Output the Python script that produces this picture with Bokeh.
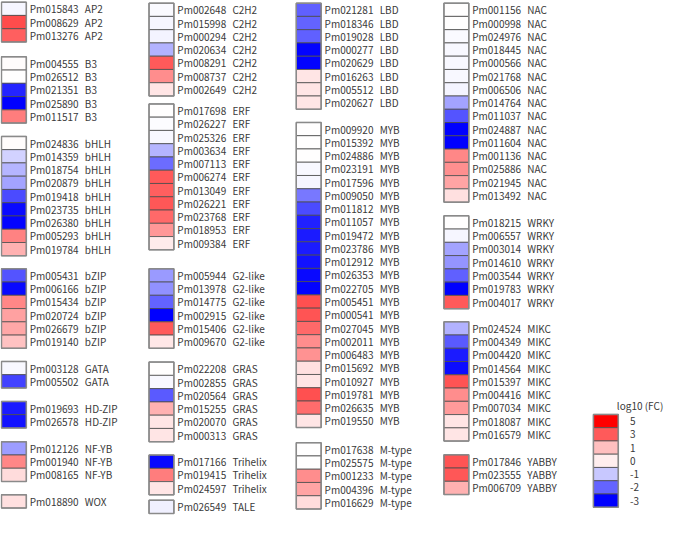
from bokeh.plotting import figure
from bokeh.models import ColumnDataSource, LinearColorMapper, Range1d
from bokeh.core.properties import value
from bokeh.embed import file_html
from bokeh.resources import INLINE

# ---------------- data: log10(FC) per gene, grouped by TF family ----------------
AP2_genes = ["Pm015843", "Pm008629", "Pm013276"]
AP2_vals = [-0.15, 3.2, 2.8]
B3_genes = ["Pm004555", "Pm026512", "Pm021351", "Pm025890", "Pm011517"]
B3_vals = [0.05, 0.0, -2.6, -3.0, 2.2]
bHLH_genes = ["Pm024836", "Pm014359", "Pm018754", "Pm020879", "Pm019418",
              "Pm023735", "Pm026380", "Pm005293", "Pm019784"]
bHLH_vals = [0.05, -0.7, -1.1, -1.3, -2.2, -2.9, -2.95, 2.1, 1.2]
bZIP_genes = ["Pm005431", "Pm006166", "Pm015434", "Pm020724", "Pm026679", "Pm019140"]
bZIP_vals = [-2.1, -2.9, 2.0, 1.5, 1.4, 0.9]
GATA_genes = ["Pm003128", "Pm005502"]
GATA_vals = [-0.1, -2.3]
HDZIP_genes = ["Pm019693", "Pm026578"]
HDZIP_vals = [-2.7, -2.8]
NFYB_genes = ["Pm012126", "Pm001940", "Pm008165"]
NFYB_vals = [-1.35, 2.0, 0.5]
WOX_genes = ["Pm018890"]
WOX_vals = [0.45]

C2H2_genes = ["Pm002648", "Pm015998", "Pm000294", "Pm020634", "Pm008291", "Pm008737", "Pm002649"]
C2H2_vals = [-0.08, -0.15, -0.17, -1.15, 2.9, 1.9, 0.4]
ERF_genes = ["Pm017698", "Pm026227", "Pm025326", "Pm003634", "Pm007113", "Pm006274",
             "Pm013049", "Pm026221", "Pm023768", "Pm018953", "Pm009384"]
ERF_vals = [0.0, -0.06, -0.12, -1.1, -1.85, 2.9, 2.8, 2.95, 2.6, 1.7, 0.3]
G2_genes = ["Pm005944", "Pm013978", "Pm014775", "Pm002915", "Pm015406", "Pm009670"]
G2_vals = [-1.4, -1.5, -1.95, -3.0, 2.9, 0.35]
GRAS_genes = ["Pm022208", "Pm002855", "Pm020564", "Pm015255", "Pm020070", "Pm000313"]
GRAS_vals = [0.0, -0.1, -2.05, 1.2, 0.4, 0.38]
Trihelix_genes = ["Pm017166", "Pm019415", "Pm024597"]
Trihelix_vals = [-2.9, 2.2, 0.4]
TALE_genes = ["Pm026549"]
TALE_vals = [-0.25]

LBD_genes = ["Pm021281", "Pm018346", "Pm019028", "Pm000277", "Pm020629",
             "Pm016263", "Pm005512", "Pm020627"]
LBD_vals = [-2.0, -1.95, -2.0, -2.95, -2.95, 0.4, 0.38, 0.4]
MYB_genes = ["Pm009920", "Pm015392", "Pm024886", "Pm023191", "Pm017596", "Pm009050",
             "Pm011812", "Pm011057", "Pm019472", "Pm023786", "Pm012912", "Pm026353",
             "Pm022705", "Pm005451", "Pm000541", "Pm027045", "Pm002011", "Pm006483",
             "Pm015692", "Pm010927", "Pm019781", "Pm026635", "Pm019550"]
MYB_vals = [0.03, 0.0, 0.0, -0.12, -0.14, -1.75, -2.2, -2.65, -2.7, -2.7, -2.8, -2.9,
            -2.95, 3.1, 3.0, 2.6, 1.9, 1.8, 0.45, 0.4, 3.1, 2.55, 0.4]
Mtype_genes = ["Pm017638", "Pm025575", "Pm001233", "Pm004396", "Pm016629"]
Mtype_vals = [0.03, 0.0, 1.9, 1.45, 0.5]

NAC_genes = ["Pm001156", "Pm000998", "Pm024976", "Pm018445", "Pm000566", "Pm021768",
             "Pm006506", "Pm014764", "Pm011037", "Pm024887", "Pm011604", "Pm001136",
             "Pm025886", "Pm021945", "Pm013492"]
NAC_vals = [0.02, 0.0, -0.07, -0.1, -0.1, -0.1, -0.18, -1.3, -2.1, -3.0, -3.0,
            2.0, 1.85, 1.45, 0.45]
WRKY_genes = ["Pm018215", "Pm006557", "Pm003014", "Pm014610", "Pm003544", "Pm019783", "Pm004017"]
WRKY_vals = [0.0, -0.14, -1.3, -1.45, -2.0, -3.0, 2.9]
MIKC_genes = ["Pm024524", "Pm004349", "Pm004420", "Pm014564", "Pm015397", "Pm004416",
              "Pm007034", "Pm018087", "Pm016579"]
MIKC_vals = [-1.15, -2.05, -2.7, -2.85, 3.0, 1.9, 1.65, 0.4, 0.38]
YABBY_genes = ["Pm017846", "Pm023555", "Pm006709"]
YABBY_vals = [3.0, 2.95, 1.2]

legend_labels = ["5", "3", "1", "0", "-1", "-2", "-3"]
legend_title = "log10 (FC)"

columns = [
    [("AP2", AP2_genes, AP2_vals), ("B3", B3_genes, B3_vals), ("bHLH", bHLH_genes, bHLH_vals),
     ("bZIP", bZIP_genes, bZIP_vals), ("GATA", GATA_genes, GATA_vals),
     ("HD-ZIP", HDZIP_genes, HDZIP_vals), ("NF-YB", NFYB_genes, NFYB_vals),
     ("WOX", WOX_genes, WOX_vals)],
    [("C2H2", C2H2_genes, C2H2_vals), ("ERF", ERF_genes, ERF_vals), ("G2-like", G2_genes, G2_vals),
     ("GRAS", GRAS_genes, GRAS_vals), ("Trihelix", Trihelix_genes, Trihelix_vals),
     ("TALE", TALE_genes, TALE_vals)],
    [("LBD", LBD_genes, LBD_vals), ("MYB", MYB_genes, MYB_vals), ("M-type", Mtype_genes, Mtype_vals)],
    [("NAC", NAC_genes, NAC_vals), ("WRKY", WRKY_genes, WRKY_vals), ("MIKC", MIKC_genes, MIKC_vals),
     ("YABBY", YABBY_genes, YABBY_vals)],
]

# ---------------- layout / style ----------------
COL_LEFT = [1.0, 152.3, 303.3, 454.7]
GROUP_TOPS = [
    [1.7, 57.7, 139.3, 275.0, 370.0, 411.0, 452.3, 506.7],
    [2.7, 106.0, 275.0, 370.7, 466.0, 512.3],
    [2.7, 125.0, 453.3],
    [2.7, 220.7, 329.3, 465.7],
]
BOX_W = 25.5
ROW_H = 13.6
GENE_DX = 3.5
FAM_DX = 60.0
FONT = "Noto Sans CJK SC"
TEXT_COLOR = "#3a3a3a"
FS = "10px"

LEG_LEFT, LEG_TOP = 608.0, 424.3
legend_colors = ["#ff0000", "#ff5a5a", "#ffbfbf", "#ffeeee", "#c8c8ff", "#6464ff", "#0000ff"]

# colour scale (piecewise linear between stops)
stops = [(-3.0, (0, 0, 255)), (-2.0, (96, 96, 255)), (-1.0, (192, 192, 255)),
         (0.0, (255, 255, 255)), (1.0, (255, 187, 187)), (3.0, (255, 85, 85)),
         (5.0, (255, 0, 0))]
LOW, HIGH, N = -3.0, 5.0, 256


def interp(v):
    for (v0, c0), (v1, c1) in zip(stops[:-1], stops[1:]):
        if v0 <= v <= v1:
            t = (v - v0) / (v1 - v0)
            return "#%02x%02x%02x" % tuple(int(round(a + (b - a) * t)) for a, b in zip(c0, c1))
    return "#ffffff"


palette = [interp(LOW + (HIGH - LOW) * i / (N - 1)) for i in range(N)]
mapper = LinearColorMapper(palette=palette, low=LOW, high=HIGH)

cx, cy, vals, genes, fams, gx, fx = [], [], [], [], [], [], []
ox, oy, oh = [], [], []
for ci, col in enumerate(columns):
    left = COL_LEFT[ci]
    for gi, (fam, g_list, v_list) in enumerate(col):
        top = GROUP_TOPS[ci][gi]
        for ri, (g, v) in enumerate(zip(g_list, v_list)):
            cx.append(left + BOX_W / 2)
            cy.append(top + ROW_H * (ri + 0.5))
            vals.append(v)
            genes.append(g)
            fams.append(fam)
            gx.append(left + BOX_W + GENE_DX)
            fx.append(left + BOX_W + FAM_DX)
        ox.append(left + BOX_W / 2)
        oy.append(top + ROW_H * len(g_list) / 2)
        oh.append(ROW_H * len(g_list))

src = ColumnDataSource(dict(x=cx, y=cy, val=vals, gene=genes, fam=fams, gx=gx, fx=fx))
osrc = ColumnDataSource(dict(x=ox, y=oy, h=oh))

p = figure(width=669, height=517, x_range=Range1d(0, 686), y_range=Range1d(530, 0),
           output_backend="svg", toolbar_location=None, min_border=0)
p.axis.visible = False
p.grid.visible = False
p.outline_line_color = None
p.background_fill_color = "white"

p.rect(x="x", y="y", width=BOX_W, height=ROW_H, source=src,
       fill_color={"field": "val", "transform": mapper},
       line_color="#4d4d4d", line_width=0.8)
p.rect(x="x", y="y", width=BOX_W, height="h", source=osrc,
       fill_color=None, line_color="#8a8a8a", line_width=1.5)
p.text(x="gx", y="y", text="gene", source=src, text_font=value(FONT), text_font_size=FS,
       text_baseline="middle", text_color=TEXT_COLOR)
p.text(x="fx", y="y", text="fam", source=src, text_font=value(FONT), text_font_size=FS,
       text_baseline="middle", text_color=TEXT_COLOR)

# legend
ly = [LEG_TOP + ROW_H * (i + 0.5) for i in range(len(legend_labels))]
lsrc = ColumnDataSource(dict(x=[LEG_LEFT + BOX_W / 2] * len(ly), y=ly, c=legend_colors,
                             lab=legend_labels, lx=[LEG_LEFT + BOX_W + 12] * len(ly)))
p.rect(x="x", y="y", width=BOX_W, height=ROW_H, source=lsrc, fill_color="c",
       line_color="#4d4d4d", line_width=0.8)
p.rect(x=[LEG_LEFT + BOX_W / 2], y=[LEG_TOP + ROW_H * len(ly) / 2], width=BOX_W,
       height=ROW_H * len(ly), fill_color=None, line_color="#8a8a8a", line_width=1.5)
p.text(x="lx", y="y", text="lab", source=lsrc, text_font=value(FONT), text_font_size=FS,
       text_baseline="middle", text_color=TEXT_COLOR)
p.text(x=[LEG_LEFT + 24], y=[LEG_TOP - 9], text=[legend_title], text_font=value(FONT),
       text_font_size=FS, text_baseline="middle", text_color=TEXT_COLOR)

open("out.html", "w").write(file_html(p, INLINE))
